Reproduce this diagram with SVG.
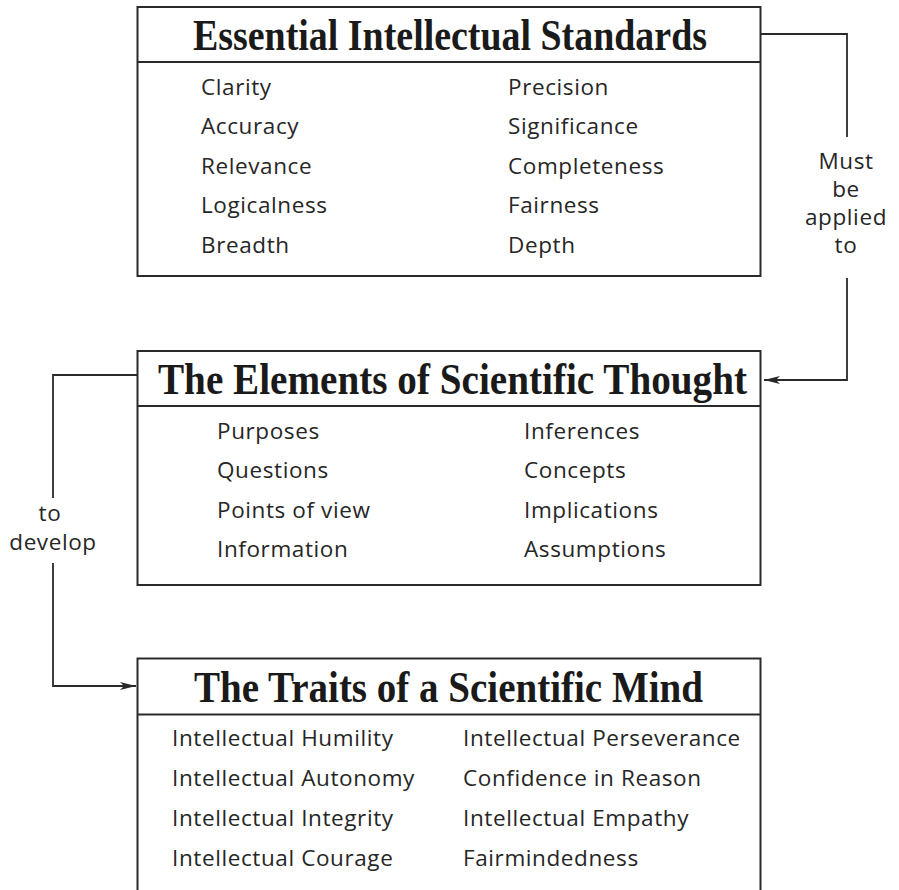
<svg xmlns="http://www.w3.org/2000/svg" width="899" height="890" viewBox="0 0 899 890">
<style>
.box{fill:#fff;stroke:#2a2a2a;stroke-width:2}
.div{stroke:#2a2a2a;stroke-width:2;fill:none}
.title{font-family:"Liberation Serif","Times New Roman",serif;font-weight:bold;font-size:45px;fill:#1a1a1a}
.item{font-family:"Open Sans","Liberation Sans",sans-serif;font-size:22.5px;letter-spacing:0.6px;fill:#262626}
.lbl{font-family:"Open Sans","Liberation Sans",sans-serif;font-size:22.5px;letter-spacing:0.6px;fill:#262626;text-anchor:middle}
.conn{fill:none;stroke:#2a2a2a;stroke-width:1.8}
</style>
<defs>
<marker id="arr" viewBox="0 0 16 8" refX="16" refY="4" markerWidth="16" markerHeight="8" markerUnits="userSpaceOnUse" orient="auto">
<path d="M0,0 L16,4 L0,8 L4,4 Z" fill="#2a2a2a"/>
</marker>
</defs>
<rect width="899" height="890" fill="#fff"/>

<g id="standards">
<rect class="box" x="137.5" y="7" width="623" height="269"/>
<line class="div" x1="137.5" y1="62" x2="760.5" y2="62"/>
<text class="title" x="193" y="49.5" textLength="514" lengthAdjust="spacingAndGlyphs">Essential Intellectual Standards</text>
<text class="item" x="201" y="94.5">Clarity</text>
<text class="item" x="201" y="134">Accuracy</text>
<text class="item" x="201" y="173.5">Relevance</text>
<text class="item" x="201" y="213">Logicalness</text>
<text class="item" x="201" y="252.5">Breadth</text>
<text class="item" x="508" y="94.5">Precision</text>
<text class="item" x="508" y="134">Significance</text>
<text class="item" x="508" y="173.5">Completeness</text>
<text class="item" x="508" y="213">Fairness</text>
<text class="item" x="508" y="252.5">Depth</text>
</g>

<g id="elements">
<rect class="box" x="137.5" y="351" width="623" height="234"/>
<line class="div" x1="137.5" y1="406" x2="760.5" y2="406"/>
<text class="title" x="158" y="393.5" textLength="589" lengthAdjust="spacingAndGlyphs">The Elements of Scientific Thought</text>
<text class="item" x="217" y="438.5">Purposes</text>
<text class="item" x="217" y="478">Questions</text>
<text class="item" x="217" y="517.5">Points of view</text>
<text class="item" x="217" y="557">Information</text>
<text class="item" x="524" y="438.5">Inferences</text>
<text class="item" x="524" y="478">Concepts</text>
<text class="item" x="524" y="517.5">Implications</text>
<text class="item" x="524" y="557">Assumptions</text>
</g>

<g id="traits">
<path class="div" d="M137.5,892 V658.5 H760.5 V892"/>
<line class="div" x1="137.5" y1="714.5" x2="760.5" y2="714.5"/>
<text class="title" x="194" y="702" textLength="509" lengthAdjust="spacingAndGlyphs">The Traits of a Scientific Mind</text>
<text class="item" x="172" y="746">Intellectual Humility</text>
<text class="item" x="172" y="786">Intellectual Autonomy</text>
<text class="item" x="172" y="826">Intellectual Integrity</text>
<text class="item" x="172" y="866">Intellectual Courage</text>
<text class="item" x="463" y="746">Intellectual Perseverance</text>
<text class="item" x="463" y="786">Confidence in Reason</text>
<text class="item" x="463" y="826">Intellectual Empathy</text>
<text class="item" x="463" y="866">Fairmindedness</text>
</g>

<g id="connectors">
<path class="conn" d="M760.5,34 H847 V137"/>
<path class="conn" d="M847,278 V380 H764" marker-end="url(#arr)"/>
<path class="conn" d="M137.5,375 H53 V498"/>
<path class="conn" d="M53,563 V686 H136" marker-end="url(#arr)"/>
<text class="lbl" x="846" y="169">Must</text>
<text class="lbl" x="846" y="197">be</text>
<text class="lbl" x="846" y="225">applied</text>
<text class="lbl" x="846" y="253">to</text>
<text class="lbl" x="50" y="521">to</text>
<text class="lbl" x="53" y="550">develop</text>
</g>
</svg>
